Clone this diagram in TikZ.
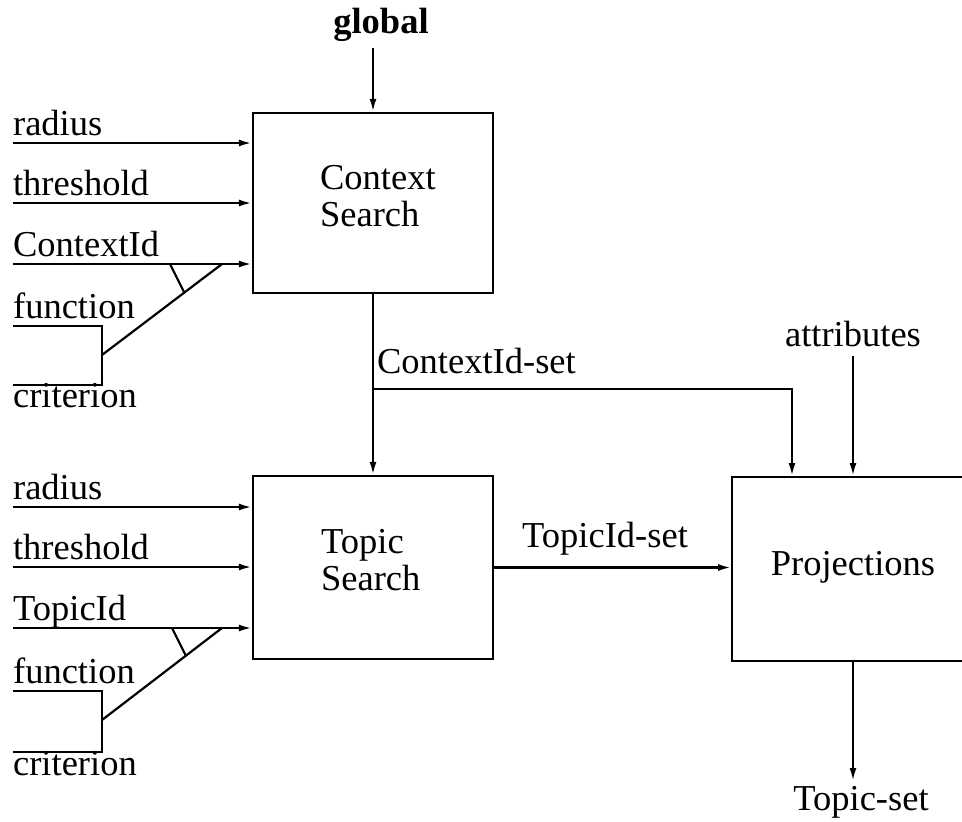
\documentclass[tikz,border=0pt]{standalone}
\usepackage{fontspec}
\setmainfont{Liberation Serif}
\usetikzlibrary{arrows.meta}
\begin{document}
\begin{tikzpicture}[x=1pt,y=-1pt,
  line width=2.2pt,
  box/.style={draw, line width=2.4pt, rectangle, inner sep=0pt},
  arr/.style={-{Latex[length=13pt,width=7pt]}},
  lbl/.style={inner sep=0pt, font=\fontsize{36.5}{37}\selectfont},
  lblw/.style={lbl, anchor=base west}]
\clip (0,0) rectangle (962,822);
% boxes
\node[box, minimum width=240, minimum height=180] (cs) at (373,203) {};
\node[box, minimum width=240, minimum height=183] (ts) at (373,567.5) {};
\node[box, anchor=north west, minimum width=260, minimum height=184] (pj) at (731,476) {};
\node[lbl, align=left, anchor=west] (cst) at (319,196) {Context\\Search};
\node[lbl, align=left, anchor=west] (tst) at (320,560) {Topic\\Search};
\node[lbl] (pjt) at (853,567) {Projections};
% global
\node[lbl, anchor=base, font=\fontsize{36.5}{37}\selectfont\bfseries] (gl) at (381,33) {global};
\coordinate (gls) at (373,48);
\draw[arr] (gls) -- (gls |- cs.north);
% top-left inputs
\node[lblw] (l1) at (12,135) {radius};
\node[lblw] (l2) at (12,195) {threshold};
\node[lblw] (l3) at (12,256) {ContextId};
\node[lblw] (l4) at (12,318) {function};
\node[lblw] (l5) at (12,407) {criterion};
\coordinate (a1) at (13,143);
\coordinate (a2) at (13,203);
\coordinate (a3) at (13,264);
\draw[arr] (a1) -- (a1 -| cs.west);
\draw[arr] (a2) -- (a2 -| cs.west);
\draw[arr] (a3) -- (a3 -| cs.west);
\coordinate (f1) at (13,326);
\coordinate (f2) at (102,326);
\coordinate (f3) at (102,385);
\coordinate (f4) at (13,385);
\coordinate (fm) at (102,355);
\coordinate (fj) at (222,264);
\coordinate (t1) at (170,264);
\coordinate (t2) at (184,292);
\draw (f1) -- (f2) -- (f3) -- (f4);
\draw (fm) -- (fj);
\draw (t1) -- (t2);
% bottom-left inputs
\node[lblw] (m1) at (12,499) {radius};
\node[lblw] (m2) at (12,559) {threshold};
\node[lblw] (m3) at (12,620) {TopicId};
\node[lblw] (m4) at (12,683) {function};
\node[lblw] (m5) at (12,775) {criterion};
\coordinate (b1) at (13,507);
\coordinate (b2) at (13,567);
\coordinate (b3) at (13,628);
\draw[arr] (b1) -- (b1 -| ts.west);
\draw[arr] (b2) -- (b2 -| ts.west);
\draw[arr] (b3) -- (b3 -| ts.west);
\coordinate (g1) at (13,691);
\coordinate (g2) at (102,691);
\coordinate (g3) at (102,752);
\coordinate (g4) at (13,752);
\coordinate (gm) at (102,720);
\coordinate (gj) at (222,628);
\coordinate (u1) at (172,628);
\coordinate (u2) at (186,656);
\draw (g1) -- (g2) -- (g3) -- (g4);
\draw (gm) -- (gj);
\draw (u1) -- (u2);
% ContextId-set
\draw[arr] (cs.south) -- (ts.north);
\coordinate (split) at (373,389);
\coordinate (pjin) at (792,476);
\draw[arr] (split) -| (pjin);
\node[lblw] (cis) at (376,373) {ContextId-set};
% attributes
\node[lbl, anchor=base] (att) at (853,346) {attributes};
\coordinate (ats) at (853,356);
\draw[arr] (ats) -- (ats |- pj.north);
% TopicId-set
\draw[arr] (ts.east) -- (ts.east -| pj.west);
\node[lbl, anchor=base] (tis) at (605,547) {TopicId-set};
% Topic-set
\coordinate (tpe) at (853,781);
\draw[arr] (tpe |- pj.south) -- (tpe);
\node[lbl, anchor=base] (tps) at (861,810) {Topic-set};
\end{tikzpicture}
\end{document}
